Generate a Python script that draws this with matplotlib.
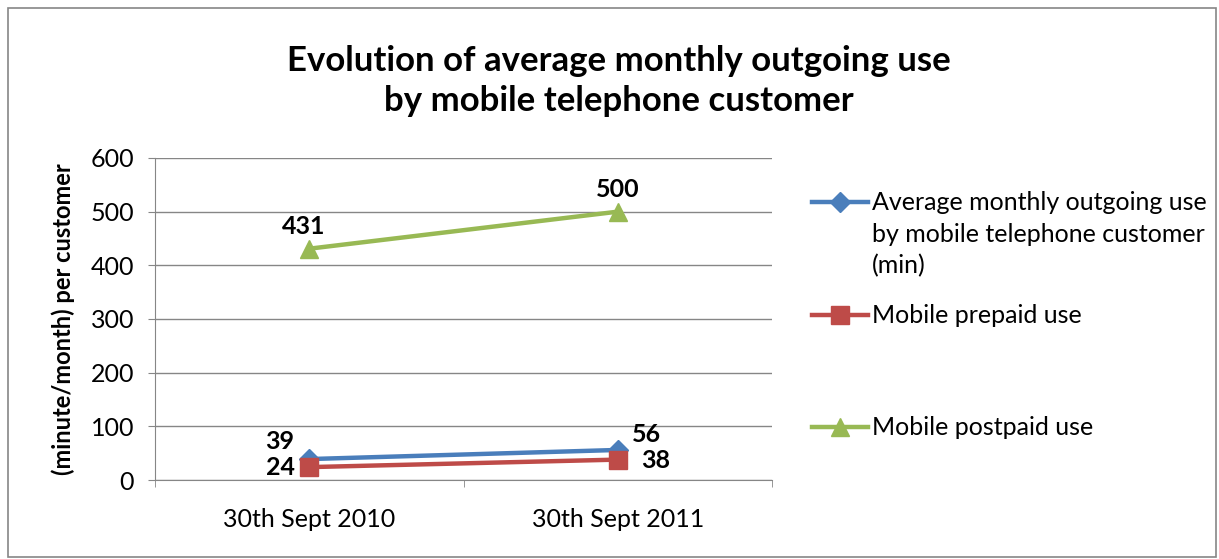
import matplotlib.pyplot as plt
from matplotlib.lines import Line2D
from matplotlib.patches import Rectangle

plt.rcParams['font.family'] = ['Lato', 'DejaVu Sans']

# data
dates = ['30th Sept 2010', '30th Sept 2011']
avg_use = [39, 56]
prepaid_use = [24, 38]
postpaid_use = [431, 500]

names = ['Average monthly outgoing use\nby mobile telephone customer\n(min)',
         'Mobile prepaid use',
         'Mobile postpaid use']
colors = ['#4A7EBB', '#BE4B48', '#98B954']
markers = ['D', 's', '^']
msizes = [10, 13, 13]

# label offsets (points) for each series, per date
offsets = [[(-21, 13), (21, 11)],
           [(-21, 0), (27, -1)],
           [(-4, 16), (0, 16)]]

fig = plt.figure(figsize=(12.19, 5.59), dpi=100)
ax = fig.add_axes([155/1219, 1-480/559, (772-155)/1219, (480-158)/559])

x = list(range(len(dates)))
series = [avg_use, prepaid_use, postpaid_use]
for vals, c, m, ms, offs in zip(series, colors, markers, msizes, offsets):
    ax.plot(x, vals, color=c, lw=3.2, marker=m, markersize=ms, zorder=3)
    for xi, v, off in zip(x, vals, offs):
        ax.annotate(str(v), (xi, v), xytext=off, textcoords='offset points',
                    ha='center', va='center', fontsize=18, fontweight='bold')

ax.set_xlim(-0.5, 1.5)
ax.set_ylim(0, 600)
ax.set_yticks(range(0, 601, 100))
ax.set_xticks(x)
ax.set_xticklabels(dates)
ax.set_xticks([-0.5, 0.5, 1.5], minor=True)
ax.tick_params(axis='x', which='major', length=0, labelsize=18, pad=20)
ax.tick_params(axis='x', which='minor', length=5, color='#868686', direction='out')
ax.tick_params(axis='y', labelsize=18, length=5, color='#868686', pad=10)
ax.grid(axis='y', color='#868686', lw=1)
ax.set_axisbelow(True)
for s in ['top', 'right']:
    ax.spines[s].set_visible(False)
for s in ['left', 'bottom']:
    ax.spines[s].set_color('#868686')

ax.set_ylabel('(minute/month) per customer', fontsize=17, fontweight='bold', labelpad=11)

fig.text(619/1219, 1-81/559, 'Evolution of average monthly outgoing use\nby mobile telephone customer',
         ha='center', va='center', fontsize=25, fontweight='bold', linespacing=1.3)

# legend drawn by hand to match the uneven spacing
leg_y = [202, 315, 427]
for yy, name, c, m, ms in zip(leg_y, names, colors, markers, msizes):
    fy = 1 - yy/559
    fig.add_artist(Line2D([812/1219, 868/1219], [fy, fy], color=c, lw=3.2,
                          transform=fig.transFigure))
    fig.add_artist(Line2D([840/1219], [fy], color=c, marker=m, markersize=ms,
                          transform=fig.transFigure))
    fig.text(872/1219, 1-(yy-11)/559, name, ha='left', va='top', fontsize=18,
             linespacing=1.45)

fig.add_artist(Rectangle((8/1219, 2/559), 1208/1219, 549/559, fill=False,
                         edgecolor='#868686', lw=1.2, transform=fig.transFigure))

fig.savefig('out.png', dpi=100)
